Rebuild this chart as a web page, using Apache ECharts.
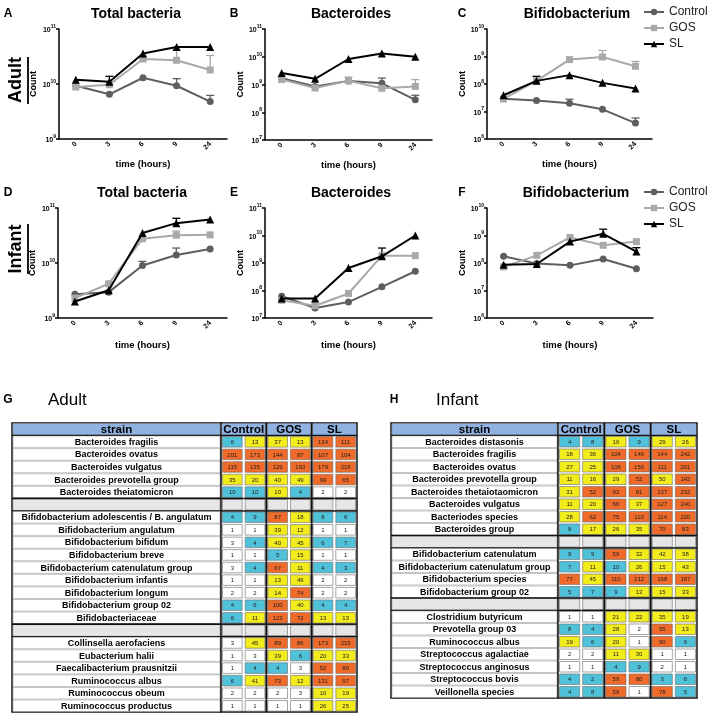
<!DOCTYPE html>
<html><head><meta charset="utf-8">
<script src="https://cdn.jsdelivr.net/npm/echarts@6/dist/echarts.min.js"></script>
<style>html,body{margin:0;padding:0;background:#fff}#c{width:708px;height:714px}</style>
</head><body><div id="c"></div><script>
// ---------------- DATA ----------------
const timeLabels = ['0', '3', '6', '9', '24'];
const seriesNames = ['Control', 'GOS', 'SL'];

// A: Adult total bacteria
const adultTotalControl = [9.3e9, 6.5e9, 1.3e10, 9.3e9, 4.8e9];
const adultTotalGOS     = [8.8e9, 9.7e9, 2.85e10, 2.7e10, 1.8e10];
const adultTotalSL      = [1.2e10, 1.1e10, 3.6e10, 4.7e10, 4.7e10];
const adultTotalControlErr = [null, null, null, 1.25e10, 6.2e9];
const adultTotalGOSErr     = [null, null, null, 4.2e10, 3.3e10];
const adultTotalSLErr      = [null, 1.38e10, null, null, null];
// B: Adult Bacteroides
const adultBactControl = [1.7e9, 8.5e8, 1.35e9, 1.1e9, 2.8e8];
const adultBactGOS     = [1.5e9, 7.5e8, 1.35e9, 7.3e8, 8.5e8];
const adultBactSL      = [2.6e9, 1.6e9, 8.3e9, 1.3e10, 1.0e10];
const adultBactControlErr = [null, null, null, 1.7e9, 4.1e8];
const adultBactGOSErr     = [null, null, 1.85e9, null, 1.5e9];
const adultBactSLErr      = [null, null, null, null, null];
// C: Adult Bifidobacterium
const adultBifControl = [2.9e7, 2.5e7, 2.0e7, 1.2e7, 3.8e6];
const adultBifGOS     = [2.85e7, 1.3e8, 7.7e8, 9.6e8, 4.4e8];
const adultBifSL      = [3.9e7, 1.3e8, 2.1e8, 1.1e8, 6.8e7];
const adultBifControlErr = [null, null, 2.8e7, null, 5.8e6];
const adultBifGOSErr     = [null, null, null, 1.65e9, 6.6e8];
const adultBifSLErr      = [null, 1.9e8, null, null, null];
// D: Infant total bacteria
const infantTotalControl = [2.7e9, 2.95e9, 9.0e9, 1.4e10, 1.8e10];
const infantTotalGOS     = [2.3e9, 4.2e9, 2.75e10, 3.2e10, 3.25e10];
const infantTotalSL      = [2.0e9, 3.2e9, 3.5e10, 5.3e10, 6.2e10];
const infantTotalControlErr = [null, null, 1.07e10, 1.87e10, null];
const infantTotalGOSErr     = [null, null, null, 3.8e10, null];
const infantTotalSLErr      = [null, null, null, 6.5e10, null];
// E: Infant Bacteroides
const infantBactControl = [6.2e7, 2.3e7, 3.8e7, 1.36e8, 5.0e8];
const infantBactGOS     = [4.4e7, 2.8e7, 7.8e7, 1.85e9, 1.85e9];
const infantBactSL      = [5.1e7, 5.1e7, 6.6e8, 1.75e9, 1.0e10];
const infantBactControlErr = [null, null, null, null, null];
const infantBactGOSErr     = [null, null, null, null, null];
const infantBactSLErr      = [null, null, null, 3.5e9, null];
// F: Infant Bifidobacterium
const infantBifControl = [1.75e8, 9.5e7, 8.2e7, 1.4e8, 6.2e7];
const infantBifGOS     = [7.2e7, 1.9e8, 8.5e8, 4.4e8, 6.0e8];
const infantBifSL      = [8.7e7, 9.2e7, 6.0e8, 1.15e9, 2.6e8];
const infantBifControlErr = [null, null, null, null, null];
const infantBifGOSErr     = [null, null, null, null, null];
const infantBifSLErr      = [null, null, null, 1.7e9, 3.6e8];

// Tables
const groupNames = ['Control', 'GOS', 'SL'];
const adultStrains = ['Bacteroides fragilis','Bacteroides ovatus','Bacteroides vulgatus','Bacteroides prevotella group','Bacteroides theiatomicron','',
  'Bifidobacterium adolescentis / B. angulatum','Bifidobacterium angulatum','Bifidobacterium bifidum','Bifidobacterium breve','Bifidobacterium catenulatum group','Bifidobacterium infantis','Bifidobacterium longum','Bifidobacterium group 02','Bifidobacteriaceae','',
  'Collinsella aerofaciens','Eubacterium halii','Faecalibacterium prausnitzii','Ruminococcus albus','Ruminococcus obeum','Ruminococcus productus'];
const adultCounts = [[6,13,37,13,134,111],[201,173,144,87,107,104],[115,135,129,193,179,218],[35,20,40,49,99,65],[10,10,10,4,2,2],null,
  [4,9,87,18,8,6],[1,1,39,12,1,1],[3,4,40,45,6,7],[1,1,5,15,1,1],[3,4,67,11,4,3],[1,1,13,46,2,2],[2,2,14,74,2,2],[4,6,100,40,4,4],[6,11,123,72,13,13],null,
  [3,45,89,86,173,215],[1,3,39,6,20,33],[1,4,4,3,52,86],[6,41,73,12,131,97],[2,2,2,3,10,19],[1,1,1,1,26,25]];
const adultLevels = ['BYYYOO','OOOOOO','OOOOOO','YYYYOO','BBYBWW','',
  'BBOYBB','WWYYWW','WBYYBB','WWBYWW','WBOYBB','WWYYWW','WWYOWW','BBOYBB','BYOOYY','',
  'WYOOOO','WWYBYY','WBBWOO','BYOYOO','WWWWYY','WWWWYY'];
const infantStrains = ['Bacteroides distasonis','Bacteroides fragilis','Bacteroides ovatus','Bacteroides prevotella group','Bacteroides thetaiotaomicron','Bacteroides vulgatus','Bacteriodes species','Bacteroides group','',
  'Bifidobacterium catenulatum','Bifidobacterium catenulatum group','Bifidobacterium species','Bifidobacterium group 02','',
  'Clostridium butyricum','Prevotella group 03','Ruminococcus albus','Streptococcus agalactiae','Streptococcus anginosus','Streptococcus bovis','Veillonella species'];
const infantCounts = [[4,8,16,9,29,26],[18,36,104,146,144,242],[27,25,106,150,111,201],[11,16,29,52,50,142],[31,52,92,81,137,232],[11,20,66,37,127,240],[28,62,75,110,114,220],[8,17,26,35,70,83],null,
  [9,9,59,32,42,38],[7,11,10,26,15,43],[77,45,110,212,168,167],[5,7,9,13,15,33],null,
  [1,1,21,22,35,19],[8,4,28,2,55,13],[19,6,20,1,90,6],[2,2,11,30,1,1],[1,1,4,9,2,1],[4,2,59,80,3,6],[4,8,59,1,78,5]];
const infantLevels = ['BBYBYY','YYOOOO','YYOOOO','YYYOYO','YOOOOO','YYOYOO','YOOOOO','BYYYOO','',
  'BBOYYY','BYBYYY','OYOOOO','BBBYYY','',
  'WWYYYY','BBYWOY','YBYWOB','WWYYWW','WWBBWW','BBOOBB','BBOWOB'];

// ---------------- STYLE / LAYOUT ----------------
const FONT = 'Liberation Sans, Arial, sans-serif';
const seriesStyle = [
  {color: '#5e5e5e', symbol: 'circle', size: 7},
  {color: '#a9a9a9', symbol: 'rect', size: 7},
  {color: '#000000', symbol: 'triangle', size: 8}
];
const panels = [
  {title: 'Total bacteria', tx: 136, ty: 14, letter: 'A', lx: 8, min: 1e9, max: 1e11, grid: {left: 59, top: 29, width: 168, height: 110}, nameGap: 21, xGap: 20,
   vals: [adultTotalControl, adultTotalGOS, adultTotalSL], errs: [adultTotalControlErr, adultTotalGOSErr, adultTotalSLErr]},
  {title: 'Bacteroides', tx: 351, ty: 14, letter: 'B', lx: 234, min: 1e7, max: 1e11, grid: {left: 265, top: 29, width: 167, height: 111}, nameGap: 17, xGap: 20,
   vals: [adultBactControl, adultBactGOS, adultBactSL], errs: [adultBactControlErr, adultBactGOSErr, adultBactSLErr]},
  {title: 'Bifidobacterium', tx: 577, ty: 14, letter: 'C', lx: 462, min: 1e6, max: 1e10, grid: {left: 487, top: 29, width: 165, height: 110}, nameGap: 17, xGap: 20,
   vals: [adultBifControl, adultBifGOS, adultBifSL], errs: [adultBifControlErr, adultBifGOSErr, adultBifSLErr]},
  {title: 'Total bacteria', tx: 142, ty: 193, letter: 'D', lx: 8, min: 1e9, max: 1e11, grid: {left: 58, top: 208, width: 169, height: 110}, nameGap: 21, xGap: 22,
   vals: [infantTotalControl, infantTotalGOS, infantTotalSL], errs: [infantTotalControlErr, infantTotalGOSErr, infantTotalSLErr]},
  {title: 'Bacteroides', tx: 351, ty: 193, letter: 'E', lx: 234, min: 1e7, max: 1e11, grid: {left: 265, top: 208, width: 167, height: 110}, nameGap: 17, xGap: 22,
   vals: [infantBactControl, infantBactGOS, infantBactSL], errs: [infantBactControlErr, infantBactGOSErr, infantBactSLErr]},
  {title: 'Bifidobacterium', tx: 576, ty: 193, letter: 'F', lx: 462, min: 1e6, max: 1e10, grid: {left: 487, top: 208, width: 166, height: 110}, nameGap: 17, xGap: 22,
   vals: [infantBifControl, infantBifGOS, infantBifSL], errs: [infantBifControlErr, infantBifGOSErr, infantBifSLErr]}
];
const levelColors = {W: '#ffffff', B: '#4fc1d9', Y: '#f3ec1c', O: '#f06b2a'};
const headerBlue = '#8fb2e0';
const blankGray = '#e6e6e6';

const tables = [
  {strains: adultStrains, counts: adultCounts, levels: adultLevels, top: 423, rowH: 12.57, nameLeft: 12, nameW: 209, valLeft: 221, valW: 136},
  {strains: infantStrains, counts: infantCounts, levels: infantLevels, top: 423, rowH: 12.5, nameLeft: 391, nameW: 167, valLeft: 558, valW: 139}
];

// ---------------- BUILD ----------------
const grids = [], xAxes = [], yAxes = [], series = [], graphics = [];

panels.forEach((p, i) => {
  grids.push(Object.assign({}, p.grid));
  xAxes.push({
    type: 'category', gridIndex: i, data: timeLabels, boundaryGap: true,
    axisLine: {lineStyle: {color: '#000', width: 1.5}},
    axisTick: {alignWithLabel: true, length: 3, lineStyle: {color: '#000', width: 1.5}},
    axisLabel: {rotate: 45, fontSize: 7, fontWeight: 'bold', color: '#000', margin: 4, fontFamily: FONT},
    name: 'time (hours)', nameLocation: 'middle', nameGap: p.xGap,
    nameTextStyle: {fontSize: 9.5, fontWeight: 'bold', color: '#000', fontFamily: FONT}
  });
  yAxes.push({
    type: 'log', logBase: 10, gridIndex: i, min: p.min, max: p.max,
    axisLine: {show: true, lineStyle: {color: '#000', width: 1.5}},
    axisTick: {show: true, length: 3, lineStyle: {color: '#000', width: 1.5}},
    splitLine: {show: false},
    axisLabel: {
      formatter: v => '{b|10}{s|' + Math.round(Math.log10(v)) + '}',
      margin: 3,
      rich: {
        b: {fontSize: 7, fontWeight: 'bold', color: '#000', fontFamily: FONT, lineHeight: 10, verticalAlign: 'bottom'},
        s: {fontSize: 5, fontWeight: 'bold', color: '#000', fontFamily: FONT, lineHeight: 10, verticalAlign: 'top'}
      }
    },
    name: 'Count', nameLocation: 'middle', nameGap: p.nameGap,
    nameTextStyle: {fontSize: 9, fontWeight: 'bold', color: '#000', fontFamily: FONT}
  });
  seriesNames.forEach((name, k) => {
    const st = seriesStyle[k];
    const errData = [];
    p.errs[k].forEach((u, j) => { if (u !== null) errData.push([j, p.vals[k][j], u]); });
    if (errData.length) {
      series.push({
        type: 'custom', name: name + '-err' + i, xAxisIndex: i, yAxisIndex: i, z: 1, silent: true,
        data: errData,
        renderItem: (params, api) => {
          const lo = api.coord([api.value(0), api.value(1)]);
          const hi = api.coord([api.value(0), api.value(2)]);
          return {type: 'group', children: [
            {type: 'line', shape: {x1: lo[0], y1: lo[1], x2: hi[0], y2: hi[1]}, style: {stroke: st.color, lineWidth: 1.3}},
            {type: 'line', shape: {x1: hi[0] - 4, y1: hi[1], x2: hi[0] + 4, y2: hi[1]}, style: {stroke: st.color, lineWidth: 1.3}}
          ]};
        }
      });
    }
    series.push({
      type: 'line', name: name, xAxisIndex: i, yAxisIndex: i, z: 2 + k,
      data: p.vals[k], symbol: st.symbol, symbolSize: st.size, showSymbol: true,
      lineStyle: {color: st.color, width: 2}, itemStyle: {color: st.color},
      emphasis: {disabled: true}
    });
  });
  graphics.push({type: 'text', x: p.tx, y: p.ty, style: {text: p.title, fontSize: 14, fontWeight: 'bold', fontFamily: FONT, fill: '#000', align: 'center', verticalAlign: 'middle'}});
  graphics.push({type: 'text', x: p.lx, y: p.ty, style: {text: p.letter, fontSize: 12, fontWeight: 'bold', fontFamily: FONT, fill: '#000', align: 'center', verticalAlign: 'middle'}});
});

graphics.push({type: 'text', x: 16, y: 80, rotation: Math.PI / 2, style: {text: 'Adult', fontSize: 18, fontWeight: 'bold', fontFamily: FONT, fill: '#000', align: 'center', verticalAlign: 'middle'}});
graphics.push({type: 'line', shape: {x1: 28, y1: 57, x2: 28, y2: 104}, style: {stroke: '#000', lineWidth: 1.8}});
graphics.push({type: 'text', x: 16, y: 249, rotation: Math.PI / 2, style: {text: 'Infant', fontSize: 18, fontWeight: 'bold', fontFamily: FONT, fill: '#000', align: 'center', verticalAlign: 'middle'}});
graphics.push({type: 'line', shape: {x1: 28, y1: 224, x2: 28, y2: 274}, style: {stroke: '#000', lineWidth: 1.8}});
graphics.push({type: 'text', x: 8, y: 400, style: {text: 'G', fontSize: 12, fontWeight: 'bold', fontFamily: FONT, fill: '#000', align: 'center', verticalAlign: 'middle'}});
graphics.push({type: 'text', x: 48, y: 400, style: {text: 'Adult', fontSize: 17, fontFamily: FONT, fill: '#000', align: 'left', verticalAlign: 'middle'}});
graphics.push({type: 'text', x: 394, y: 400, style: {text: 'H', fontSize: 12, fontWeight: 'bold', fontFamily: FONT, fill: '#000', align: 'center', verticalAlign: 'middle'}});
graphics.push({type: 'text', x: 436, y: 400, style: {text: 'Infant', fontSize: 17, fontFamily: FONT, fill: '#000', align: 'left', verticalAlign: 'middle'}});

tables.forEach((t, ti) => {
  const nRows = t.strains.length + 1;
  const rowCats = Array.from({length: nRows}, (_, r) => String(r));
  const height = t.rowH * nRows;
  const gName = grids.length;
  grids.push({left: t.nameLeft, top: t.top, width: t.nameW, height: height, show: true, borderColor: '#111', borderWidth: 1.5, backgroundColor: '#fff'});
  xAxes.push({type: 'category', gridIndex: gName, data: ['strain'], show: false});
  yAxes.push({type: 'category', gridIndex: gName, data: rowCats, inverse: true, show: false});
  const nameData = [[0, 0]];
  t.strains.forEach((s, r) => nameData.push([0, r + 1]));
  series.push({
    type: 'custom', xAxisIndex: gName, yAxisIndex: gName, silent: true, data: nameData,
    renderItem: (params, api) => {
      const r = api.value(1);
      const c = api.coord([0, r]); const sz = api.size([1, 1]);
      const x0 = c[0] - sz[0] / 2, y0 = c[1] - sz[1] / 2;
      const label = r === 0 ? 'strain' : t.strains[r - 1];
      const blank = r > 0 && label === '';
      const fill = r === 0 ? headerBlue : (blank ? blankGray : '#fff');
      const ch = [{type: 'rect', shape: {x: x0 + 1, y: y0 + 0.5, width: sz[0] - 2, height: sz[1] - 1}, style: {fill: fill, stroke: '#888', lineWidth: 0.5}}];
      if (!blank) ch.push({type: 'text', x: c[0], y: c[1] + 0.5, style: {text: label, fontSize: r === 0 ? 11.5 : 9, fontWeight: 'bold', fontFamily: FONT, fill: '#000', align: 'center', verticalAlign: 'middle'}});
      if (r === 0 || blank) ch.push({type: 'line', shape: {x1: x0, y1: y0 + sz[1], x2: x0 + sz[0], y2: y0 + sz[1]}, style: {stroke: '#111', lineWidth: 1.6}});
      if (blank) ch.push({type: 'line', shape: {x1: x0, y1: y0, x2: x0 + sz[0], y2: y0}, style: {stroke: '#111', lineWidth: 1.6}});
      return {type: 'group', children: ch};
    }
  });
  const gVal = grids.length;
  grids.push({left: t.valLeft, top: t.top, width: t.valW, height: height, show: true, borderColor: '#111', borderWidth: 1.5, backgroundColor: '#fff'});
  xAxes.push({type: 'category', gridIndex: gVal, data: ['C1', 'C2', 'G1', 'G2', 'S1', 'S2'], show: false});
  yAxes.push({type: 'category', gridIndex: gVal, data: rowCats, inverse: true, show: false});
  series.push({
    type: 'custom', xAxisIndex: gVal, yAxisIndex: gVal, silent: true, data: [[0, 0], [2, 0], [4, 0]],
    renderItem: (params, api) => {
      const col = api.value(0);
      const c = api.coord([col, 0]); const sz = api.size([1, 1]);
      const x0 = c[0] - sz[0] / 2, y0 = c[1] - sz[1] / 2;
      const ch = [
        {type: 'rect', shape: {x: x0 + 1, y: y0 + 0.5, width: 2 * sz[0] - 2, height: sz[1] - 1}, style: {fill: headerBlue}},
        {type: 'text', x: x0 + sz[0], y: c[1] + 0.5, style: {text: groupNames[params.dataIndex], fontSize: 11.5, fontWeight: 'bold', fontFamily: FONT, fill: '#000', align: 'center', verticalAlign: 'middle'}},
        {type: 'line', shape: {x1: x0, y1: y0 + sz[1], x2: x0 + 2 * sz[0], y2: y0 + sz[1]}, style: {stroke: '#111', lineWidth: 1.6}}
      ];
      if (col > 0) ch.push({type: 'line', shape: {x1: x0, y1: y0, x2: x0, y2: y0 + sz[1]}, style: {stroke: '#111', lineWidth: 2}});
      return {type: 'group', children: ch};
    }
  });
  const cellData = [];
  t.strains.forEach((s, r) => {
    for (let k = 0; k < 6; k++) {
      if (t.counts[r] === null) cellData.push([k, r + 1, -1, 4]);
      else cellData.push([k, r + 1, t.counts[r][k], 'WBYO'.indexOf(t.levels[r][k])]);
    }
  });
  series.push({
    type: 'custom', xAxisIndex: gVal, yAxisIndex: gVal, silent: true, data: cellData,
    renderItem: (params, api) => {
      const col = api.value(0), r = api.value(1), v = api.value(2), lv = api.value(3);
      const c = api.coord([col, r]); const sz = api.size([1, 1]);
      const x0 = c[0] - sz[0] / 2, y0 = c[1] - sz[1] / 2;
      const fill = lv === 4 ? blankGray : levelColors['WBYO'[lv]];
      const ch = [{type: 'rect', shape: {x: x0 + 1.5, y: y0 + 1, width: sz[0] - 3, height: sz[1] - 2}, style: {fill: fill, stroke: '#6a6a6a', lineWidth: 0.6}}];
      if (lv !== 4) ch.push({type: 'text', x: c[0], y: c[1] + 0.5, style: {text: String(v), fontSize: 6, fontFamily: FONT, fill: '#222', align: 'center', verticalAlign: 'middle'}});
      if (col === 2 || col === 4) ch.push({type: 'line', shape: {x1: x0, y1: y0, x2: x0, y2: y0 + sz[1]}, style: {stroke: '#111', lineWidth: 2}});
      if (lv === 4) {
        ch.push({type: 'line', shape: {x1: x0, y1: y0, x2: x0 + sz[0], y2: y0}, style: {stroke: '#111', lineWidth: 1.6}});
        ch.push({type: 'line', shape: {x1: x0, y1: y0 + sz[1], x2: x0 + sz[0], y2: y0 + sz[1]}, style: {stroke: '#111', lineWidth: 1.6}});
      }
      return {type: 'group', children: ch};
    }
  });
});

const legendBase = {
  data: seriesNames, orient: 'vertical', left: 643, itemWidth: 20, itemHeight: 8, itemGap: 4,
  selectedMode: false, textStyle: {fontSize: 12, color: '#222', fontFamily: FONT}, padding: 0
};

const chart = echarts.init(document.getElementById('c'), null, {renderer: 'canvas'});
chart.setOption({
  animation: false,
  backgroundColor: '#fff',
  grid: grids, xAxis: xAxes, yAxis: yAxes, series: series,
  legend: [Object.assign({top: 6}, legendBase), Object.assign({top: 186}, legendBase)],
  graphic: graphics
});
</script></body></html>
